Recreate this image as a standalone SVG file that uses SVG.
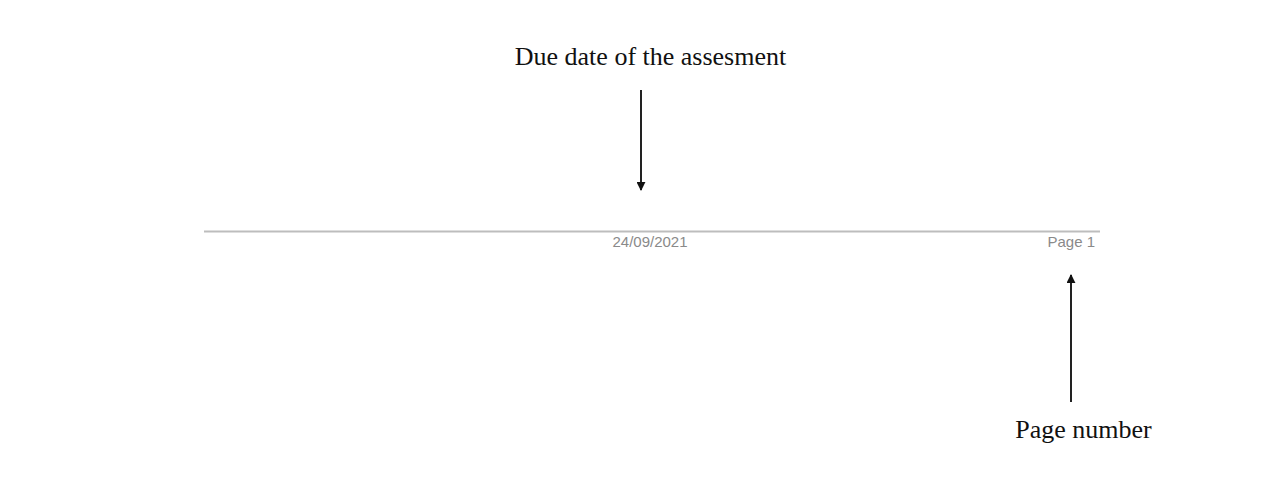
<svg xmlns="http://www.w3.org/2000/svg" width="1265" height="487" viewBox="0 0 1265 487">
<style>
.lbl{font-family:"Liberation Serif","Times New Roman",serif;font-size:26px;fill:#111}
.ftr{font-family:"Liberation Sans",Arial,sans-serif;font-size:15px;fill:#8a8a8a}
.con{stroke:#222;stroke-width:2;fill:none}
</style>
<defs>
<marker id="ah" viewBox="0 0 10 10" refX="9" refY="5" markerWidth="4.5" markerHeight="4.5" orient="auto" markerUnits="strokeWidth">
<path d="M0,0 L10,5 L0,10 z" fill="#111"/>
</marker>
</defs>
<rect width="1265" height="487" fill="#fff"/>
<g id="footer">
<line x1="204" y1="231.5" x2="1100" y2="231.5" stroke="#bdbdbd" stroke-width="2"/>
<text class="ftr" x="650" y="247" text-anchor="middle">24/09/2021</text>
<text class="ftr" x="1095" y="247" text-anchor="end">Page 1</text>
</g>
<g id="due-date-label">
<text class="lbl" x="650.5" y="65" text-anchor="middle">Due date of the assesment</text>
</g>
<g id="page-number-label">
<text class="lbl" x="1083.5" y="438" text-anchor="middle">Page number</text>
</g>
<g id="connectors">
<line class="con" x1="641" y1="90" x2="641" y2="190" marker-end="url(#ah)"/>
<line class="con" x1="1071" y1="402" x2="1071" y2="275" marker-end="url(#ah)"/>
</g>
</svg>
